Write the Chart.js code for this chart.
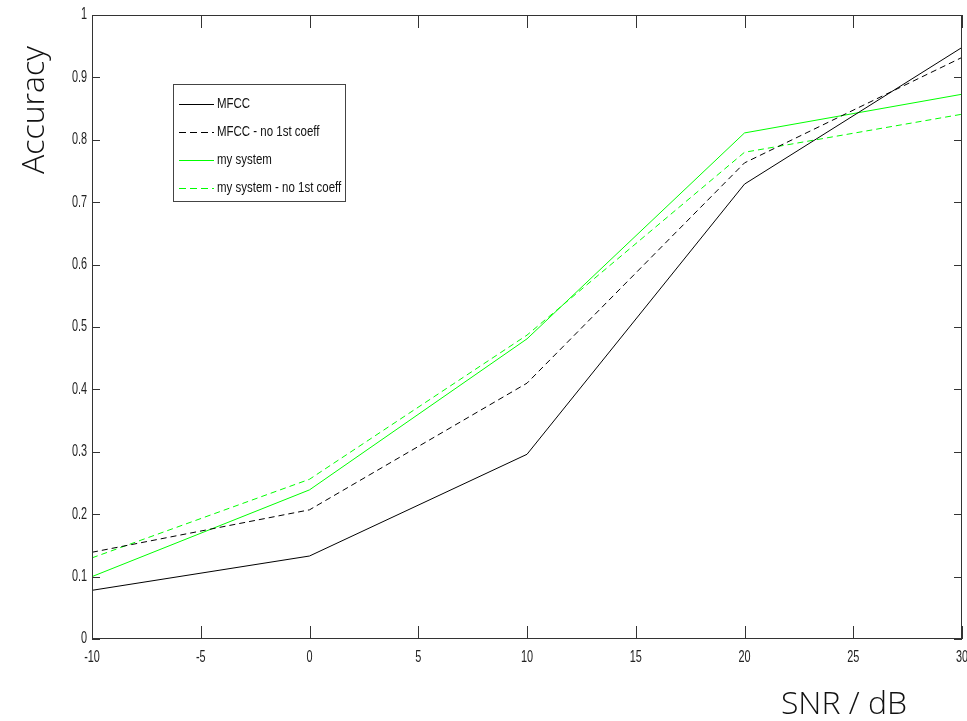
<!DOCTYPE html>
<html>
<head>
<meta charset="utf-8">
<script src="https://cdn.jsdelivr.net/npm/chart.js@4.4.1/dist/chart.umd.min.js"></script>
<style>
  html, body { margin: 0; padding: 0; background: #fff; }
  #wrap { position: relative; width: 967px; height: 721px; }
</style>
</head>
<body>
<div id="wrap"><canvas id="chart" width="967" height="721"></canvas></div>
<script>
const snr = [-10, 0, 10, 20, 30];
const mfcc = [0.078, 0.133, 0.296, 0.729, 0.948];
const mfccNoFirst = [0.139, 0.207, 0.410, 0.763, 0.932];
const mySystem = [0.100, 0.239, 0.481, 0.811, 0.873];
const mySystemNoFirst = [0.130, 0.256, 0.487, 0.780, 0.841];
const xTickLabels = ['-10', '-5', '0', '5', '10', '15', '20', '25', '30'];
const yTickLabels = ['0', '0.1', '0.2', '0.3', '0.4', '0.5', '0.6', '0.7', '0.8', '0.9', '1'];

const narrowFont = "'Liberation Sans', Arial, sans-serif";
const axisColor = '#333';

const toPoints = ys => snr.map((x, i) => ({ x: x, y: ys[i] }));

// squeezed text, the matlab labels are very condensed
function narrowText(ctx, text, x, y, align, sx) {
  ctx.save();
  ctx.translate(x, y);
  ctx.scale(sx, 1);
  ctx.textAlign = align;
  ctx.fillText(text, 0, 0);
  ctx.restore();
}

// box, inward ticks, tick labels, legend and axis titles
const matlabFrame = {
  id: 'matlabFrame',
  afterDraw(chart) {
    const { ctx, chartArea: a, scales } = chart;
    ctx.save();
    ctx.strokeStyle = axisColor;
    ctx.lineWidth = 1;
    ctx.strokeRect(a.left + 0.5, a.top + 0.5, a.right - a.left - 1, a.bottom - a.top - 1);

    ctx.beginPath();
    xTickLabels.forEach(t => {
      const px = Math.round(scales.x.getPixelForValue(Number(t))) + 0.5;
      ctx.moveTo(px, a.bottom); ctx.lineTo(px, a.bottom - 13);
      ctx.moveTo(px, a.top); ctx.lineTo(px, a.top + 13);
    });
    yTickLabels.forEach(t => {
      const py = Math.round(scales.y.getPixelForValue(Number(t))) + 0.5;
      ctx.moveTo(a.left, py); ctx.lineTo(a.left + 8, py);
      ctx.moveTo(a.right, py); ctx.lineTo(a.right - 8, py);
    });
    ctx.stroke();

    ctx.fillStyle = '#222';
    ctx.font = "16px " + narrowFont;
    ctx.textBaseline = 'middle';
    xTickLabels.forEach(t => {
      narrowText(ctx, t, scales.x.getPixelForValue(Number(t)), a.bottom + 19, 'center', 0.68);
    });
    yTickLabels.forEach(t => {
      narrowText(ctx, t, a.left - 5, scales.y.getPixelForValue(Number(t)), 'right', 0.68);
    });

    // legend
    const lx = 173, ly = 84, lw = 172, lh = 117;
    ctx.fillStyle = '#fff';
    ctx.fillRect(lx, ly, lw, lh);
    ctx.strokeStyle = '#444';
    ctx.strokeRect(lx + 0.5, ly + 0.5, lw, lh);
    ctx.font = "14px " + narrowFont;
    chart.data.datasets.forEach((ds, i) => {
      const y = Math.round(104 + 28 * i) + 0.5;
      ctx.strokeStyle = ds.borderColor;
      ctx.lineWidth = 1;
      ctx.setLineDash(ds.borderDash.length ? [7, 4] : []);
      ctx.beginPath();
      ctx.moveTo(179, y); ctx.lineTo(214, y);
      ctx.stroke();
      ctx.setLineDash([]);
      ctx.fillStyle = '#111';
      narrowText(ctx, ds.label, 217, y, 'left', 0.82);
    });

    // axis titles
    ctx.fillStyle = '#111';
    ctx.font = "300 32px 'Open Sans', Lato, sans-serif";
    ctx.textAlign = 'center';
    ctx.fillText('SNR / dB', 844, 705);
    ctx.translate(35, 110);
    ctx.rotate(-Math.PI / 2);
    ctx.fillText('Accuracy', 0, 0);
    ctx.restore();
  }
};

new Chart(document.getElementById('chart').getContext('2d'), {
  type: 'line',
  data: {
    datasets: [
      { label: 'MFCC', data: toPoints(mfcc), borderColor: '#000', borderDash: [] },
      { label: 'MFCC - no 1st coeff', data: toPoints(mfccNoFirst), borderColor: '#000', borderDash: [6, 4] },
      { label: 'my system', data: toPoints(mySystem), borderColor: '#00ff00', borderDash: [] },
      { label: 'my system - no 1st coeff', data: toPoints(mySystemNoFirst), borderColor: '#00ff00', borderDash: [6, 4] }
    ]
  },
  options: {
    responsive: false,
    animation: false,
    elements: {
      line: { borderWidth: 1, tension: 0, fill: false },
      point: { radius: 0, hoverRadius: 0 }
    },
    layout: { padding: { left: 0, top: 15, right: 5, bottom: 0 } },
    scales: {
      x: {
        type: 'linear',
        min: -10,
        max: 30,
        grid: { display: false, drawTicks: false },
        border: { display: false },
        ticks: { display: false, stepSize: 5 },
        afterFit: s => { s.height = 82; s.paddingLeft = 0; s.paddingRight = 0; }
      },
      y: {
        type: 'linear',
        min: 0,
        max: 1,
        grid: { display: false, drawTicks: false },
        border: { display: false },
        ticks: { display: false, stepSize: 0.1 },
        afterFit: s => { s.width = 92; s.paddingTop = 0; s.paddingBottom = 0; }
      }
    },
    plugins: {
      legend: { display: false },
      tooltip: { enabled: false }
    }
  },
  plugins: [matlabFrame]
});
</script>
</body>
</html>
